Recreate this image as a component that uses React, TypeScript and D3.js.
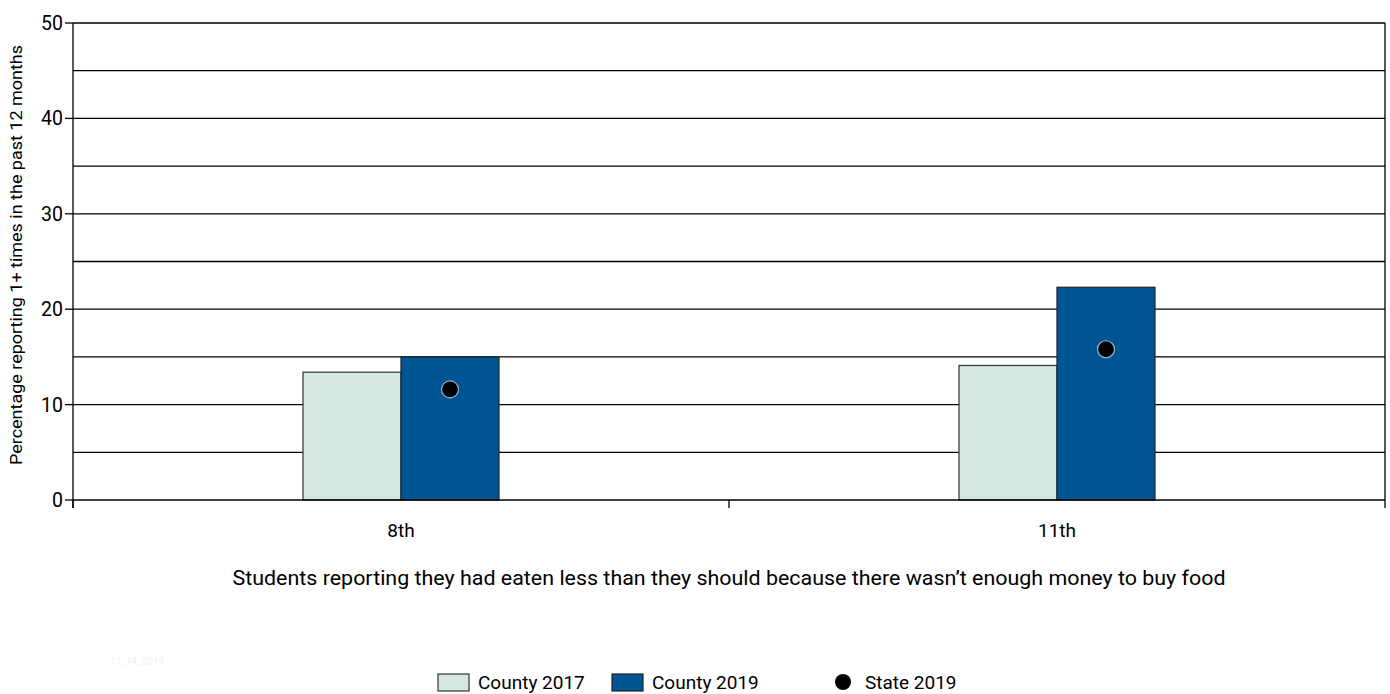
import React from "react";
import * as d3 from "d3";

const categories = ["8th", "11th"];
const county2017 = [13.4, 14.1];
const county2019 = [15.0, 22.3];
const state2019 = [11.6, 15.8];
const yTicks = [0, 10, 20, 30, 40, 50];
const gridValues = [5, 10, 15, 20, 25, 30, 35, 40, 45, 50];
const legendItems = ["County 2017", "County 2019", "State 2019"];
const xTitle = "Students reporting they had eaten less than they should because there wasn\u2019t enough money to buy food";
const yTitle = "Percentage reporting 1+ times in the past 12 months";

const FONT = "Roboto, 'Liberation Sans', sans-serif";
const C17 = "#d5e8df";
const C19 = "#005595";

export default function App() {
  const W = 1390, H = 694;
  const left = 73, right = 1385, top = 23, bottom = 500;
  const x = d3.scaleBand<string>().domain(categories).range([left, right]);
  const y = d3.scaleLinear().domain([0, 50]).range([bottom, top]);
  const barW = 98;

  return (
    <svg width={W} height={H} style={{ position: "absolute", left: 0, top: 0 }} fontFamily={FONT}>
      <rect x={0} y={0} width={W} height={H} fill="#fff" />
      {gridValues.map((v) => (
        <line key={v} x1={left} x2={right} y1={y(v)} y2={y(v)} stroke="#000" strokeWidth={1.3} />
      ))}
      <line x1={right} x2={right} y1={top} y2={bottom} stroke="#000" strokeWidth={1.3} />
      {categories.map((c, i) => {
        const cx = x(c)! + x.bandwidth() / 2;
        return (
          <g key={c}>
            <rect x={cx - barW} y={y(county2017[i])} width={barW} height={bottom - y(county2017[i])} fill={C17} stroke="#333" strokeWidth={1.2} />
            <rect x={cx} y={y(county2019[i])} width={barW} height={bottom - y(county2019[i])} fill={C19} stroke="#222" strokeWidth={1.2} />
            <circle cx={cx + barW / 2} cy={y(state2019[i])} r={8.5} fill="#000" stroke="#9ab3cf" strokeWidth={1.2} />
            <text x={cx} y={537} textAnchor="middle" fontSize={19} fill="#000">{c}</text>
          </g>
        );
      })}
      {/* axes */}
      <line x1={left} x2={left} y1={top} y2={bottom + 8} stroke="#000" strokeWidth={1.3} />
      <line x1={left} x2={right} y1={bottom} y2={bottom} stroke="#000" strokeWidth={1.3} />
      {yTicks.map((t) => (
        <g key={t}>
          <line x1={left - 8} x2={left} y1={y(t)} y2={y(t)} stroke="#000" strokeWidth={1.3} />
          <text x={left - 10} y={y(t) + 7} textAnchor="end" fontSize={19.5} fill="#000">{t}</text>
        </g>
      ))}
      {[left, (left + right) / 2, right].map((tx, i) => (
        <line key={i} x1={tx} x2={tx} y1={bottom} y2={bottom + 8} stroke="#000" strokeWidth={1.3} />
      ))}
      <text x={729} y={585} textAnchor="middle" fontSize={20.5} fill="#000" textLength={993} lengthAdjust="spacingAndGlyphs">{xTitle}</text>
      <text transform={`translate(22,255) rotate(-90)`} textAnchor="middle" fontSize={16} fill="#000" textLength={420} lengthAdjust="spacingAndGlyphs">{yTitle}</text>
      <text x={110} y={665} fontSize={10} fill="#f2f2f2">11_14_2019</text>
      {/* legend */}
      <rect x={438} y={674} width={31} height={17} fill={C17} stroke="#333" strokeWidth={1.2} />
      <text x={478} y={689} fontSize={19} fill="#000">{legendItems[0]}</text>
      <rect x={612} y={674} width={31} height={17} fill={C19} stroke="#222" strokeWidth={1.2} />
      <text x={652} y={689} fontSize={19} fill="#000">{legendItems[1]}</text>
      <circle cx={843} cy={682} r={8} fill="#000" />
      <text x={865} y={689} fontSize={19} fill="#000">{legendItems[2]}</text>
    </svg>
  );
}
